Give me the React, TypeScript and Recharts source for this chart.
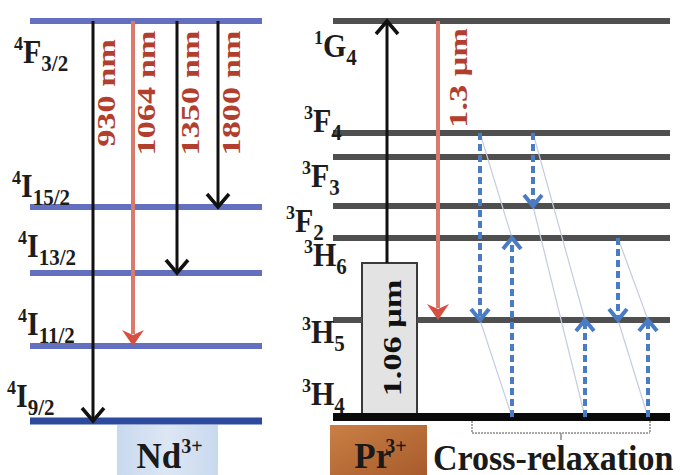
import React from 'react';
import { ComposedChart, XAxis, YAxis, ReferenceLine, ReferenceArea, Scatter } from 'recharts';

const W = 684;
const H = 475;
const SERIF = '"Liberation Serif", "DejaVu Serif", serif';

// Vertical scale = height above the bottom edge (energy-like), horizontal = position across the figure.

// Nd3+ levels, top to bottom
const ndTerms = [
  { sup: '4', main: 'F', sub: '3/2' },
  { sup: '4', main: 'I', sub: '15/2' },
  { sup: '4', main: 'I', sub: '13/2' },
  { sup: '4', main: 'I', sub: '11/2' },
  { sup: '4', main: 'I', sub: '9/2' },
];
const ndLevels = [454, 268, 202, 129, 54];
const ndSpan = [30, 262];
const ndTermAt = [[14, 412], [12, 278], [18, 218], [18, 140], [7, 68]];

// Pr3+ levels, top to bottom
const prTerms = [
  { sup: '1', main: 'G', sub: '4' },
  { sup: '3', main: 'F', sub: '4' },
  { sup: '3', main: 'F', sub: '3' },
  { sup: '3', main: 'F', sub: '2' },
  { sup: '3', main: 'H', sub: '6' },
  { sup: '3', main: 'H', sub: '5' },
  { sup: '3', main: 'H', sub: '4' },
];
const prLevels = [454, 342, 318, 269, 237, 155, 58];
const prSpan = [333, 670];
const prTermAt = [[314, 418], [304, 343], [302, 288], [286, 243], [304, 209], [302, 132], [302, 70]];

// Nd3+ emissions, all from 4F3/2 down to level index `to`
const ndLines = [
  { x: 93, to: 4, label: '930 nm', kind: 'plain' },
  { x: 133, to: 3, label: '1064 nm', kind: 'laser' },
  { x: 177, to: 2, label: '1350 nm', kind: 'plain' },
  { x: 218, to: 1, label: '1800 nm', kind: 'plain' },
];

// Pr3+: 1.06 um pump block feeding 1G4, and the 1.3 um emission
const pumpBlock = { x1: 362, x2: 417, top: 212, label: '1.06 μm' };
const pumpX = 387;
const prLaser = { x: 438, from: 0, to: 5, label: '1.3 μm' };

// cross-relaxation arrows (blue dashed) and the down/up pairs they form
const crossArrows = [
  { x: 480, from: 1, to: 5 },
  { x: 512, from: 6, to: 4 },
  { x: 533, from: 1, to: 3 },
  { x: 585, from: 6, to: 5 },
  { x: 618, from: 4, to: 5 },
  { x: 648, from: 6, to: 5 },
];
const crossPairs = [[0, 1], [2, 3], [4, 5]];
const crossBracket = { x1: 472, x2: 650, top: 54, bottom: 42, tick: 35 };

const ionBoxes = [
  { x1: 117, x2: 218, main: 'Nd', sup: '3+' },
  { x1: 330, x2: 427, main: 'Pr', sup: '3+' },
];
const caption = 'Cross-relaxation';

const ND_BLUE = '#6270bf';
const ND_GROUND = '#2c4b9e';
const PR_GREY = '#4f4f4f';
const RED_LINE = '#d97a6c';
const RED_HEAD = '#d64f40';
const RED_TEXT = '#b23f2e';
const CR_BLUE = '#4a7cc4';
// pull the charge superscript towards the symbol
const SUP_KERN: Record<string, number> = { Nd: 0, Pr: -6 };

type ArrowOpts = { color: string; width: number; head: string; hw: number; hl: number; dash?: string; filled?: boolean };

const arrowShape = (o: ArrowOpts) => (p: any) => {
  const { x1, y1, x2, y2 } = p;
  const dir = y2 > y1 ? 1 : -1;
  const by = y2 - dir * o.hl;
  return (
    <g>
      <line x1={x1} y1={y1} x2={x2} y2={o.filled ? by + dir * 4 : y2 - dir * 2} stroke={o.color} strokeWidth={o.width} strokeDasharray={o.dash} />
      {o.filled ? (
        <polygon
          points={`${x2 - o.hw},${by} ${x2},${y2} ${x2 + o.hw},${by} ${x2},${by + dir * 5}`}
          fill={o.head}
        />
      ) : (
        <polyline
          points={`${x2 - o.hw},${by} ${x2},${y2} ${x2 + o.hw},${by}`}
          fill="none"
          stroke={o.head}
          strokeWidth={o.dash ? 4 : 3.5}
        />
      )}
    </g>
  );
};

const blackArrow = arrowShape({ color: '#111', width: 3, head: '#111', hw: 11, hl: 13 });
const redArrow = arrowShape({ color: RED_LINE, width: 4, head: RED_HEAD, hw: 11, hl: 16, filled: true });
const blueArrow = arrowShape({ color: CR_BLUE, width: 4, head: CR_BLUE, hw: 9, hl: 11, dash: '7 4' });

function TextMark(props: any) {
  const { cx, cy, payload: d } = props;
  if (cx == null || cy == null || !d) return null;
  if (d.kind === 'term') {
    return (
      <g transform={`translate(${cx},${cy}) scale(1,1.1)`}>
        <text x={0} y={0} fontFamily={SERIF} fontWeight={700} fill="#1c1c1c">
          <tspan fontSize={18} dy={-12}>{d.sup}</tspan>
          <tspan fontSize={30} dy={12}>{d.main}</tspan>
          <tspan fontSize={21} dy={7}>{d.sub}</tspan>
        </text>
      </g>
    );
  }
  if (d.kind === 'vert') {
    return (
      <text
        transform={`translate(${cx},${cy}) rotate(-90) scale(1.32,1)`}
        textAnchor="middle"
        dy="0.35em"
        fontFamily={SERIF}
        fontWeight={700}
        fontSize={26}
        fill={d.color}
      >
        {d.text}
      </text>
    );
  }
  if (d.kind === 'ion') {
    return (
      <text x={cx} y={cy} textAnchor="middle" fontFamily={SERIF} fontWeight={700} fill="#1a1a1a">
        <tspan fontSize={35}>{d.main}</tspan>
        <tspan fontSize={20} dx={SUP_KERN[d.main] ?? 0} dy={-15}>{d.sup}</tspan>
      </text>
    );
  }
  return (
    <g transform={`translate(${cx},${cy}) scale(1,1.08)`}>
      <text x={0} y={0} fontFamily={SERIF} fontWeight={700} fontSize={34} fill="#1a1a1a">
        {d.text}
      </text>
    </g>
  );
}

const prBoxShape = (p: any) => (
  <g>
    <defs>
      <linearGradient id="prGrad" x1="0" y1="0" x2="1" y2="1">
        <stop offset="0%" stopColor="#c97f45" />
        <stop offset="100%" stopColor="#a85c2c" />
      </linearGradient>
    </defs>
    <rect x={p.x} y={p.y} width={p.width} height={p.height} fill="url(#prGrad)" />
  </g>
);

const ndBoxShape = (p: any) => (
  <g>
    <defs>
      <linearGradient id="ndGrad" x1="0" y1="0" x2="1" y2="0">
        <stop offset="0%" stopColor="#c9d9ee" />
        <stop offset="50%" stopColor="#dce7f4" />
        <stop offset="100%" stopColor="#c9d9ee" />
      </linearGradient>
    </defs>
    <rect x={p.x} y={p.y} width={p.width} height={p.height} fill="url(#ndGrad)" />
  </g>
);

export default function App() {
  const texts = [
    ...ndTerms.map((t, i) => ({ x: ndTermAt[i][0], y: ndTermAt[i][1], kind: 'term', ...t })),
    ...prTerms.map((t, i) => ({ x: prTermAt[i][0], y: prTermAt[i][1], kind: 'term', ...t })),
    ...ndLines.map((l) => ({ x: l.x + 13, y: 382, kind: 'vert', text: l.label, color: RED_TEXT })),
    { x: prLaser.x + 20, y: 397, kind: 'vert', text: prLaser.label, color: RED_TEXT },
    { x: (pumpBlock.x1 + pumpBlock.x2) / 2 + 2, y: 137, kind: 'vert', text: pumpBlock.label, color: '#111' },
    ...ionBoxes.map((b) => ({ x: (b.x1 + b.x2) / 2 + 2, y: 7, kind: 'ion', main: b.main, sup: b.sup })),
    { x: 433, y: 5, kind: 'caption', text: caption },
  ];

  // Pr levels below the pump block top are hidden behind it
  const prSegments: { a: number; b: number; e: number; i: number }[] = [];
  prLevels.forEach((e, i) => {
    if (e < pumpBlock.top && i !== prLevels.length - 1) {
      prSegments.push({ a: prSpan[0], b: pumpBlock.x1, e, i });
      prSegments.push({ a: pumpBlock.x2, b: prSpan[1], e, i });
    } else {
      prSegments.push({ a: prSpan[0], b: prSpan[1], e, i });
    }
  });

  return (
    <div style={{ position: 'absolute', left: 0, top: 0, background: '#fff' }}>
      <ComposedChart width={W} height={H} margin={{ top: 0, right: 0, bottom: 0, left: 0 }}>
        <XAxis type="number" dataKey="x" domain={[0, W]} hide allowDataOverflow />
        <YAxis type="number" dataKey="y" domain={[0, H]} hide allowDataOverflow />

        {/* ion name boxes */}
        <ReferenceArea x1={ionBoxes[0].x1} x2={ionBoxes[0].x2} y1={0} y2={50} shape={ndBoxShape} />
        <ReferenceArea x1={ionBoxes[1].x1} x2={ionBoxes[1].x2} y1={0} y2={50} shape={prBoxShape} />

        {/* Nd levels */}
        {ndLevels.map((e, i) => (
          <ReferenceLine
            key={`nd${i}`}
            segment={[{ x: ndSpan[0], y: e }, { x: ndSpan[1], y: e }]}
            stroke={i === ndLevels.length - 1 ? ND_GROUND : ND_BLUE}
            strokeWidth={i === ndLevels.length - 1 ? 7 : 6}
          />
        ))}

        {/* Pr levels */}
        {prSegments.map((s, k) => (
          <ReferenceLine
            key={`pr${k}`}
            segment={[{ x: s.a, y: s.e }, { x: s.b, y: s.e }]}
            stroke={s.i === prLevels.length - 1 ? '#0a0a0a' : PR_GREY}
            strokeWidth={s.i === prLevels.length - 1 ? 8 : 6}
          />
        ))}

        {/* pump block */}
        <ReferenceArea
          x1={pumpBlock.x1}
          x2={pumpBlock.x2}
          y1={prLevels[prLevels.length - 1]}
          y2={pumpBlock.top}
          fill="#e3e3e3"
          fillOpacity={1}
          stroke="#3a3a3a"
          strokeWidth={2}
        />

        {/* cross-relaxation connectors */}
        {crossPairs.map(([d, u], k) => {
          const dn = crossArrows[d];
          const up = crossArrows[u];
          return [
            <ReferenceLine
              key={`c${k}a`}
              segment={[{ x: dn.x, y: prLevels[dn.from] }, { x: up.x, y: prLevels[up.to] }]}
              stroke="#c4cce0"
              strokeWidth={1.2}
            />,
            <ReferenceLine
              key={`c${k}b`}
              segment={[{ x: dn.x, y: prLevels[dn.to] }, { x: up.x, y: prLevels[up.from] }]}
              stroke="#c4cce0"
              strokeWidth={1.2}
            />,
          ];
        })}

        {/* bracket under the cross-relaxation arrows */}
        <ReferenceLine segment={[{ x: crossBracket.x1, y: crossBracket.top }, { x: crossBracket.x1, y: crossBracket.bottom }]} stroke="#8a8a8a" strokeWidth={1.5} strokeDasharray="2 1" />
        <ReferenceLine segment={[{ x: crossBracket.x1, y: crossBracket.bottom }, { x: crossBracket.x2, y: crossBracket.bottom }]} stroke="#8a8a8a" strokeWidth={1.5} strokeDasharray="2 1" />
        <ReferenceLine segment={[{ x: crossBracket.x2, y: crossBracket.top }, { x: crossBracket.x2, y: crossBracket.bottom }]} stroke="#8a8a8a" strokeWidth={1.5} strokeDasharray="2 1" />
        <ReferenceLine segment={[{ x: (crossBracket.x1 + crossBracket.x2) / 2, y: crossBracket.bottom }, { x: (crossBracket.x1 + crossBracket.x2) / 2, y: crossBracket.tick }]} stroke="#8a8a8a" strokeWidth={1.5} />

        {/* Nd emissions */}
        {ndLines.map((l, i) => (
          <ReferenceLine
            key={`ndl${i}`}
            segment={[{ x: l.x, y: ndLevels[0] }, { x: l.x, y: ndLevels[l.to] }]}
            shape={l.kind === 'laser' ? redArrow : blackArrow}
          />
        ))}

        {/* Pr pump and emission */}
        <ReferenceLine segment={[{ x: pumpX, y: pumpBlock.top }, { x: pumpX, y: prLevels[0] }]} shape={blackArrow} />
        <ReferenceLine segment={[{ x: prLaser.x, y: prLevels[prLaser.from] }, { x: prLaser.x, y: prLevels[prLaser.to] }]} shape={redArrow} />

        {/* cross-relaxation arrows */}
        {crossArrows.map((a, i) => (
          <ReferenceLine
            key={`cr${i}`}
            segment={[{ x: a.x, y: prLevels[a.from] }, { x: a.x, y: prLevels[a.to] }]}
            shape={blueArrow}
          />
        ))}

        <Scatter data={texts} shape={TextMark} isAnimationActive={false} />
      </ComposedChart>
    </div>
  );
}
